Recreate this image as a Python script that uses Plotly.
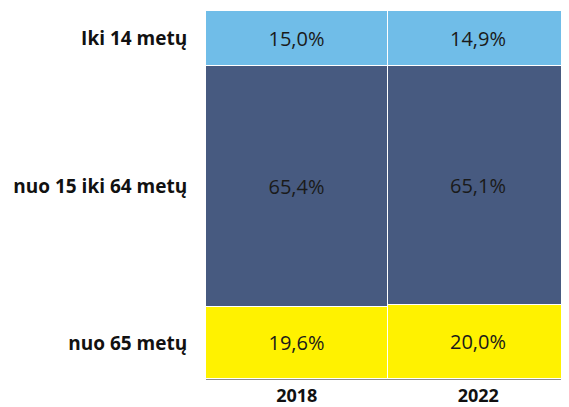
import plotly.graph_objects as go

years = ["2018", "2022"]
groups = ["nuo 65 metų", "nuo 15 iki 64 metų", "Iki 14 metų"]
values = {
    "nuo 65 metų": [19.6, 20.0],
    "nuo 15 iki 64 metų": [65.4, 65.1],
    "Iki 14 metų": [15.0, 14.9],
}
colors = {
    "nuo 65 metų": "#FFF200",
    "nuo 15 iki 64 metų": "#475A80",
    "Iki 14 metų": "#70BDE8",
}

fig = go.Figure()
for g in groups:
    vals = values[g]
    fig.add_trace(go.Bar(
        x=years, y=vals, name=g,
        marker=dict(color=colors[g], line=dict(color="white", width=1)),
        text=[f"{v:.1f}%".replace(".", ",") for v in vals],
        textposition="inside", insidetextanchor="middle",
        textfont=dict(color="#1a1a1a", size=20, family="Open Sans"),
        hoverinfo="skip",
    ))

# Label positions: midpoints of 2018 segments
tickvals = []
cum = 0
for g in groups:
    v = values[g][0]
    tickvals.append(cum + v / 2)
    cum += v

fig.update_layout(
    barmode="stack", bargap=0,
    width=561, height=399,
    margin=dict(l=198, r=0, t=3, b=28, autoexpand=False),
    plot_bgcolor="white", paper_bgcolor="white",
    showlegend=False,
    font=dict(family="Open Sans", color="#111111"),
)
fig.update_xaxes(
    showline=True, linecolor="#8c8c8c", linewidth=1,
    tickfont=dict(size=18, family="Open Sans", color="#111111", weight="bold"),
    ticks="", showgrid=False,
)
fig.update_yaxes(
    range=[0, 100], showgrid=False, zeroline=False, showline=False,
    tickvals=tickvals, ticktext=groups,
    tickfont=dict(size=19, family="Open Sans", color="#111111", weight="bold"),
    ticks="outside", ticklen=14, tickcolor="rgba(0,0,0,0)",
)
fig.write_html("out.html")
